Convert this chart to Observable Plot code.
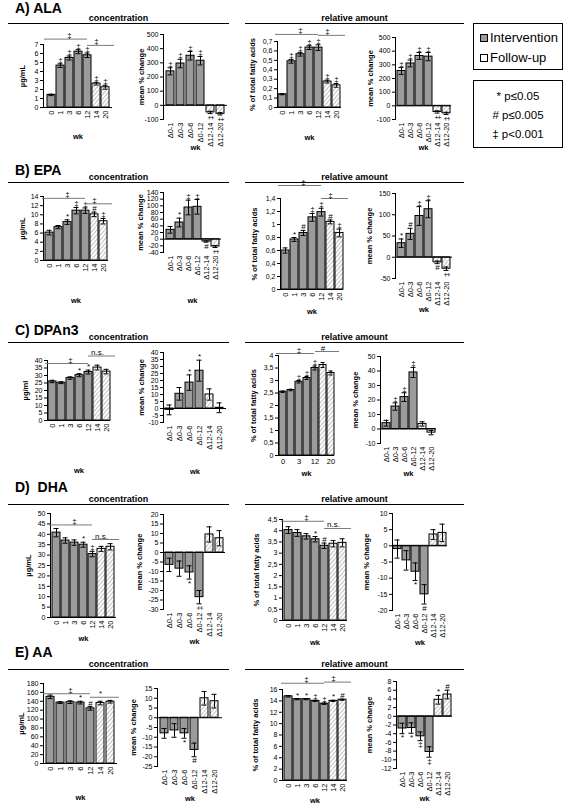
<!DOCTYPE html>
<html><head><meta charset="utf-8">
<script src="https://cdn.jsdelivr.net/npm/d3@7"></script>
<script src="https://cdn.jsdelivr.net/npm/@observablehq/plot@0.6"></script>
<style>
body{margin:0;background:#fff;font-family:"Liberation Sans",Arial,sans-serif;color:#000;}
#root{position:relative;width:565px;height:805px;overflow:hidden;background:#fff;}
.title{position:absolute;left:15px;font-weight:bold;font-size:14px;line-height:16px;white-space:pre;}
.hdr{position:absolute;font-weight:bold;font-size:9px;line-height:10px;text-align:center;border-bottom:1px solid #000;}
.box{position:absolute;border:1px solid #000;box-sizing:border-box;background:#fff;}
.li{position:absolute;left:6px;font-size:13px;line-height:14px;white-space:nowrap;}
.sw{display:inline-block;width:8px;height:8px;border:1px solid #000;margin-right:2px;vertical-align:0px;box-sizing:border-box;}
.pl{position:absolute;left:0;width:100%;text-align:center;font-size:11.5px;line-height:13px;white-space:nowrap;}
svg g[aria-label="x-axis tick label"] text, svg g[aria-label="x-axis"] g.tick text{font-size:7.5px;}
</style></head>
<body>
<svg width="0" height="0" style="position:absolute">
  <defs>
    <pattern id="hatch" patternUnits="userSpaceOnUse" width="3" height="3" patternTransform="rotate(40)">
      <rect width="3" height="3" fill="#fff"/>
      <line x1="0" y1="0" x2="0" y2="3" stroke="#8c8c8c" stroke-width="1.1"/>
    </pattern>
  </defs>
</svg>
<div id="root"></div>
<script>
// ---------- categories & tick labels ----------
const wkCats = ["0","1","3","6","12","14","20"];
const deltaCats = ["Δ0-1","Δ0-3","Δ0-6","Δ0-12","Δ12-14","Δ12-20"];
const followCats = ["14","20","Δ12-14","Δ12-20"];
const rowTitles = ["A) ALA","B) EPA","C) DPAn3","D)  DHA","E) AA"];
const headerTexts = ["concentration","relative amount"];
const legendItems = ["Intervention","Follow-up"];
const pLegend = ["* p≤0.05","# p≤0.005","‡ p<0.001"];

// ---------- A) ALA ----------
const alaConcMean = [1.4, 4.65, 5.5, 6.2, 5.8, 2.65, 2.25];
const alaConcErr  = [0.08, 0.2, 0.22, 0.22, 0.25, 0.15, 0.22];
const alaConcSig  = ["", "‡", "‡", "‡", "‡", "‡", "‡"];
const alaConcTicks = [0,1,2,3,4,5,6,7];
const alaConcBr = [{a:"0", b:"12", y:7.6, label:"‡", at:"3"}, {a:"12", b:"20", y:6.9, label:"‡", at:"14"}];
const alaDConcMean = [240, 295, 350, 315, -50, -60];
const alaDConcErr  = [25, 30, 30, 30, 8, 8];
const alaDConcSig  = ["‡","‡","‡","‡","‡","‡"];
const alaDConcTicks = [-100,0,100,200,300,400,500];
const alaRelMean = [0.14, 0.49, 0.565, 0.635, 0.635, 0.275, 0.235];
const alaRelErr  = [0.005, 0.02, 0.02, 0.02, 0.03, 0.015, 0.02];
const alaRelSig  = ["", "‡", "‡", "‡", "‡", "‡", "‡"];
const alaRelTicks = [0,0.1,0.2,0.3,0.4,0.5,0.6,0.7];
const alaRelBr = [{a:"0", b:"12", y:0.775, label:"‡", at:"3"}, {a:"12", b:"20", y:0.765, label:"‡", at:"14"}];
const alaDRelMean = [255, 310, 365, 360, -45, -55];
const alaDRelErr  = [25, 25, 25, 30, 8, 8];
const alaDRelSig  = ["‡","‡","‡","‡","‡","‡"];
const alaDRelTicks = [-100,0,100,200,300,400,500];

// ---------- B) EPA ----------
const epaConcMean = [6.1, 7.3, 8.4, 10.9, 10.9, 10.1, 8.6];
const epaConcErr  = [0.5, 0.35, 0.5, 0.7, 0.6, 0.5, 0.6];
const epaConcSig  = ["", "", "*", "‡", "‡", "#", "‡"];
const epaConcTicks = [0,2,4,6,8,10,12,14];
const epaConcBr = [{a:"0", b:"12", y:13.6, label:"‡", at:"3"}, {a:"12", b:"20", y:12.4, label:"‡", at:"14"}];
const epaDConcMean = [28, 50, 95, 97, -7, -22];
const epaDConcErr  = [10, 13, 22, 22, 2, 3];
const epaDConcSig  = ["", "*", "‡", "‡", "#", "‡"];
const epaDConcTicks = [-40,-20,0,20,40,60,80,100,120,140];
const epaRelMean = [0.6, 0.77, 0.87, 1.11, 1.19, 1.04, 0.87];
const epaRelErr  = [0.04, 0.03, 0.04, 0.06, 0.06, 0.03, 0.06];
const epaRelSig  = ["", "*", "#", "‡", "‡", "#", "‡"];
const epaRelTicks = [0,0.2,0.4,0.6,0.8,1,1.2,1.4];
const epaRelBr = [{a:"0", b:"12", y:1.6, label:"‡", at:"3"}, {a:"12", b:"20", y:1.4, label:"‡", at:"14"}];
const epaDRelMean = [33, 55, 97, 113, -12, -27];
const epaDRelErr  = [10, 13, 22, 20, 3, 4];
const epaDRelSig  = ["*", "#", "‡", "‡", "#", "‡"];
const epaDRelTicks = [-50,0,50,100,150];

// ---------- C) DPAn3 ----------
const dpaConcMean = [26, 25.2, 28.3, 30.2, 32.3, 35.3, 32.6];
const dpaConcErr  = [0.8, 0.6, 0.8, 1.0, 1.3, 1.6, 1.5];
const dpaConcSig  = ["", "", "", "*", "*", "", ""];
const dpaConcTicks = [0,5,10,15,20,25,30,35,40];
const dpaConcBr = [{a:"0", b:"12", y:38, label:"‡", at:"3"}, {a:"12", b:"20", y:43, label:"n.s.", at:"14"}];
const dpaDConcMean = [-1, 10.5, 18.5, 27, 10, 0.5];
const dpaDConcErr  = [3.5, 4.5, 5.5, 7.5, 4, 3.5];
const dpaDConcSig  = ["", "", "*", "*", "", ""];
const dpaDConcTicks = [-10,-5,0,5,10,15,20,25,30,35,40];
const dpaRelMean = [2.55, 2.62, 2.95, 3.1, 3.5, 3.62, 3.3];
const dpaRelErr  = [0.03, 0.03, 0.05, 0.06, 0.08, 0.1, 0.08];
const dpaRelSig  = ["", "", "‡", "‡", "‡", "", ""];
const dpaRelTicks = [0,0.5,1,1.5,2,2.5,3,3.5,4];
const dpaRelXTicks = ["0","3","12","20"];
const dpaRelBr = [{a:"0", b:"12", y:4.08, label:"‡", at:"3"}, {a:"12", b:"20", y:4.16, label:"#", at:"14"}];
const dpaDRelMean = [4, 15.5, 22, 39, 3.5, -2.5];
const dpaDRelErr  = [2, 2.5, 3, 3.5, 1.5, 1.5];
const dpaDRelSig  = ["", "‡", "‡", "‡", "", ""];
const dpaDRelTicks = [-10,0,10,20,30,40,50];

// ---------- D) DHA ----------
const dhaConcMean = [40.8, 37, 36, 35, 30.5, 33, 34];
const dhaConcErr  = [2, 1.3, 1.3, 1.2, 1.3, 1.2, 1.5];
const dhaConcSig  = ["", "", "", "*", "‡", "", ""];
const dhaConcTicks = [0,5,10,15,20,25,30,35,40,45,50];
const dhaConcBr = [{a:"0", b:"12", y:44.5, label:"‡", at:"3"}, {a:"12", b:"20", y:37.5, label:"n.s.", at:"14"}];
const dhaDConcMean = [-6.5, -8.5, -10.5, -23.5, 9.5, 7.5];
const dhaDConcErr  = [3.5, 4, 3.5, 3.5, 4, 4];
const dhaDConcSig  = ["", "", "*", "‡", "", ""];
const dhaDConcTicks = [-30,-25,-20,-15,-10,-5,0,5,10,15,20];
const dhaRelMean = [4.03, 3.9, 3.75, 3.62, 3.33, 3.42, 3.46];
const dhaRelErr  = [0.15, 0.15, 0.12, 0.12, 0.12, 0.14, 0.18];
const dhaRelSig  = ["", "", "", "*", "#", "", ""];
const dhaRelTicks = [0,0.5,1,1.5,2,2.5,3,3.5,4,4.5];
const dhaRelBr = [{a:"0", b:"12", y:4.42, label:"‡", at:"3"}, {a:"12", b:"20", y:4.1, label:"n.s.", at:"14"}];
const dhaDRelMean = [-1, -4.5, -8, -15, 3.5, 4];
const dhaDRelErr  = [2.8, 3, 2.7, 3, 1.5, 2.7];
const dhaDRelSig  = ["", "", "*", "#", "", ""];
const dhaDRelTicks = [-20,-15,-10,-5,0,5,10];

// ---------- E) AA ----------
const aaConcMean = [150, 137, 138, 137, 124, 136, 139];
const aaConcErr  = [4, 2, 3, 3, 4, 4, 3];
const aaConcSig  = ["", "", "", "*", "#", "", ""];
const aaConcTicks = [0,20,40,60,80,100,120,140,160,180];
const aaConcBr = [{a:"0", b:"12", y:157, label:"‡", at:"3"}, {a:"12", b:"20", y:149, label:"*", at:"14"}];
const aaDConcMean = [-8, -6.5, -8, -16.5, 10, 8.5];
const aaDConcErr  = [2.5, 3.5, 2.5, 3.5, 3.5, 3.5];
const aaDConcSig  = ["", "", "*", "#", "", ""];
const aaDConcTicks = [-25,-20,-15,-10,-5,0,5,10,15];
const aaRelMean = [14.8, 14.3, 14.3, 14.0, 13.5, 14.0, 14.2];
const aaRelErr  = [0.12, 0.1, 0.1, 0.1, 0.12, 0.1, 0.1];
const aaRelSig  = ["", "*", "*", "‡", "‡", "*", "#"];
const aaRelTicks = [0,2,4,6,8,10,12,14,16];
const aaRelBr = [{a:"0", b:"12", y:17.1, label:"‡", at:"3"}, {a:"12", b:"20", y:17.3, label:"‡", at:"14"}];
const aaDRelMean = [-2.8, -2.7, -4.6, -8.2, 3.8, 5.0];
const aaDRelErr  = [1.2, 1.2, 1.0, 1.2, 1.0, 1.0];
const aaDRelSig  = ["*", "*", "‡", "‡", "*", "#"];
const aaDRelTicks = [-12,-10,-8,-6,-4,-2,0,2,4,6,8];

const yLabConc = "µg/mL", yLabConc2 = "µg/ml", yLabRel = "% of total fatty acids", yLabD = "mean % change";

// ---------- panel definitions (data refs) ----------
const panels = [
  {cats:wkCats, mean:alaConcMean, err:alaConcErr, sig:alaConcSig, ticks:alaConcTicks, br:alaConcBr, ylab:yLabConc},
  {cats:deltaCats, mean:alaDConcMean, err:alaDConcErr, sig:alaDConcSig, ticks:alaDConcTicks, ylab:yLabD},
  {cats:wkCats, mean:alaRelMean, err:alaRelErr, sig:alaRelSig, ticks:alaRelTicks, br:alaRelBr, ylab:yLabRel},
  {cats:deltaCats, mean:alaDRelMean, err:alaDRelErr, sig:alaDRelSig, ticks:alaDRelTicks, ylab:yLabD},
  {cats:wkCats, mean:epaConcMean, err:epaConcErr, sig:epaConcSig, ticks:epaConcTicks, br:epaConcBr, ylab:yLabConc},
  {cats:deltaCats, mean:epaDConcMean, err:epaDConcErr, sig:epaDConcSig, ticks:epaDConcTicks, ylab:yLabD},
  {cats:wkCats, mean:epaRelMean, err:epaRelErr, sig:epaRelSig, ticks:epaRelTicks, br:epaRelBr, ylab:yLabRel},
  {cats:deltaCats, mean:epaDRelMean, err:epaDRelErr, sig:epaDRelSig, ticks:epaDRelTicks, ylab:yLabD},
  {cats:wkCats, mean:dpaConcMean, err:dpaConcErr, sig:dpaConcSig, ticks:dpaConcTicks, br:dpaConcBr, ylab:yLabConc2},
  {cats:deltaCats, mean:dpaDConcMean, err:dpaDConcErr, sig:dpaDConcSig, ticks:dpaDConcTicks, ylab:yLabD},
  {cats:wkCats, mean:dpaRelMean, err:dpaRelErr, sig:dpaRelSig, ticks:dpaRelTicks, br:dpaRelBr, ylab:yLabRel, xTicks:dpaRelXTicks},
  {cats:deltaCats, mean:dpaDRelMean, err:dpaDRelErr, sig:dpaDRelSig, ticks:dpaDRelTicks, ylab:yLabD},
  {cats:wkCats, mean:dhaConcMean, err:dhaConcErr, sig:dhaConcSig, ticks:dhaConcTicks, br:dhaConcBr, ylab:yLabConc},
  {cats:deltaCats, mean:dhaDConcMean, err:dhaDConcErr, sig:dhaDConcSig, ticks:dhaDConcTicks, ylab:yLabD},
  {cats:wkCats, mean:dhaRelMean, err:dhaRelErr, sig:dhaRelSig, ticks:dhaRelTicks, br:dhaRelBr, ylab:yLabRel},
  {cats:deltaCats, mean:dhaDRelMean, err:dhaDRelErr, sig:dhaDRelSig, ticks:dhaDRelTicks, ylab:yLabD},
  {cats:wkCats, mean:aaConcMean, err:aaConcErr, sig:aaConcSig, ticks:aaConcTicks, br:aaConcBr, ylab:yLabConc},
  {cats:deltaCats, mean:aaDConcMean, err:aaDConcErr, sig:aaDConcSig, ticks:aaDConcTicks, ylab:yLabD},
  {cats:wkCats, mean:aaRelMean, err:aaRelErr, sig:aaRelSig, ticks:aaRelTicks, br:aaRelBr, ylab:yLabRel},
  {cats:deltaCats, mean:aaDRelMean, err:aaDRelErr, sig:aaDRelSig, ticks:aaDRelTicks, ylab:yLabD, noRot:true}
];

// ---------- layout (pixel frame of each panel: left, right, top, bottom, wk label y, y-label offset) ----------
const layout = [
  {L:43,R:112,T:44,B:107,wk:136,yl:-21}, {L:163,R:227,T:34,B:119,wk:147,yl:-22},
  {L:277,R:341,T:41,B:107,wk:137,yl:-25}, {L:395,R:451,T:37,B:119,wk:147,yl:-25},
  {L:43,R:108,T:196,B:260,wk:300,yl:-21}, {L:163,R:221,T:192,B:252,wk:300,yl:-23},
  {L:280,R:343,T:198,B:289,wk:311,yl:-26}, {L:395,R:452,T:193,B:278,wk:309,yl:-26},
  {L:47,R:110,T:360,B:420,wk:470,yl:-22}, {L:163,R:226,T:352,B:422,wk:471,yl:-22},
  {L:278,R:334,T:355,B:455,wk:473,yl:-25}, {L:380,R:436,T:356,B:443,wk:473,yl:-25},
  {L:50,R:116,T:513,B:617,wk:638,yl:-22}, {L:163,R:225,T:514,B:609,wk:641,yl:-24},
  {L:282,R:347,T:519,B:620,wk:642,yl:-26}, {L:392,R:447,T:513,B:610,wk:642,yl:-26},
  {L:43,R:117,T:683,B:763,wk:797,yl:-22}, {L:157,R:222,T:688,B:766,wk:798,yl:-24},
  {L:282,R:347,T:689,B:780,wk:800,yl:-27}, {L:396,R:452,T:681,B:768,wk:798,yl:-27}
];
const titleTops = [0, 162, 322, 479, 644];
const headerLineY = [24, 183, 343, 505, 670];

const root = document.getElementById("root");
const fmt = d => String(d).replace(".", ",");

function drawPanel(p, g) {
  const data = p.cats.map((c, i) => ({c, m: p.mean[i], e: p.err[i], s: p.sig[i], f: followCats.includes(c)}));
  const mL = 45, mR = 25, mT = 45, mB = 50;
  const width = g.R - g.L + mL + mR, height = g.B - g.T + mT + mB;
  const lo = p.ticks[0], hi = p.ticks[p.ticks.length - 1];
  const pos = data.filter(d => d.s && d.m >= 0);
  const negRot = data.filter(d => d.s && d.m < 0 && d.s === "‡" && !p.noRot);
  const neg = data.filter(d => d.s && d.m < 0 && !(d.s === "‡" && !p.noRot));
  const yLabel = [{t: p.ylab, v: (lo + hi) / 2}];
  const marks = [
    Plot.barY(data.filter(d => !d.f), {x: "c", y: "m", fill: "#9b9b9b", stroke: "#000", strokeWidth: 1}),
    Plot.barY(data.filter(d => d.f), {x: "c", y: "m", fill: "url(#hatch)", stroke: "#000", strokeWidth: 1}),
    Plot.ruleY([0], {stroke: "#000", strokeWidth: 1}),
    Plot.ruleX(data, {x: "c", y1: d => d.m - d.e, y2: d => d.m + d.e, stroke: "#000", strokeWidth: 1}),
    Plot.tickY(data, {x: "c", y: d => d.m - d.e, stroke: "#000", insetLeft: 1.5, insetRight: 1.5}),
    Plot.tickY(data, {x: "c", y: d => d.m + d.e, stroke: "#000", insetLeft: 1.5, insetRight: 1.5}),
    Plot.text(pos, {x: "c", y: d => d.m + d.e, text: "s", lineAnchor: "bottom", dy: -1, fontSize: 8}),
    Plot.text(neg, {x: "c", y: d => d.m - d.e, text: "s", lineAnchor: "top", dy: 1, fontSize: 8}),
    Plot.text(negRot, {x: "c", y: d => d.m - d.e, text: "s", rotate: -90, textAnchor: "end", lineAnchor: "middle", dy: 2, fontSize: 8}),
    Plot.text(yLabel, {y: "v", text: "t", frameAnchor: "left", textAnchor: "middle", lineAnchor: "middle", rotate: -90, dx: g.yl, fontWeight: "bold", fontSize: 7.5}),
    Plot.text(["wk"], {frameAnchor: "bottom", textAnchor: "middle", lineAnchor: "middle", dy: g.wk - g.B, fontWeight: "bold", fontSize: 7.5})
  ];
  if (p.br) {
    marks.push(
      Plot.ruleY([p.br[0]], {x1: "a", x2: "b", y: "y", stroke: "#7a7a7a", strokeWidth: 1, insetLeft: -3, insetRight: 4}),
      Plot.ruleY([p.br[1]], {x1: "a", x2: "b", y: "y", stroke: "#7a7a7a", strokeWidth: 1, insetLeft: 4, insetRight: -5}),
      Plot.text(p.br, {x: "at", y: "y", text: "label", lineAnchor: "bottom", dy: -1, dx: 0, fontSize: 8})
    );
  }
  const svg = Plot.plot({
    width, height,
    marginLeft: mL, marginRight: mR, marginTop: mT, marginBottom: mB,
    x: {domain: p.cats, paddingInner: 0.16, paddingOuter: 0.06, label: null, tickSize: 0, tickPadding: 3,
        tickRotate: p.xTicks ? 0 : -90, ticks: p.xTicks || p.cats},
    y: {domain: [lo, hi], ticks: p.ticks, tickFormat: fmt, tickSize: 3, tickPadding: 2, line: true, label: null},
    style: {position: "absolute", left: (g.L - mL) + "px", top: (g.T - mT) + "px", background: "none",
            overflow: "visible", maxWidth: "none", fontFamily: "Liberation Sans, Arial, sans-serif", fontSize: "7px", color: "#000"},
    marks
  });
  root.appendChild(svg);
}

panels.forEach((p, i) => drawPanel(p, layout[i]));

// titles and section headers
rowTitles.forEach((t, i) => {
  const d = document.createElement("div");
  d.className = "title"; d.textContent = t; d.style.top = titleTops[i] + "px";
  root.appendChild(d);
  [[8, 229], [245, 464]].forEach(([x0, x1], j) => {
    const h = document.createElement("div");
    h.className = "hdr"; h.textContent = headerTexts[j];
    h.style.left = x0 + "px"; h.style.width = (x1 - x0) + "px";
    h.style.top = (headerLineY[i] - 11) + "px";
    root.appendChild(h);
  });
});

// legends
const box1 = document.createElement("div");
box1.className = "box";
Object.assign(box1.style, {left: "473px", top: "23px", width: "90px", height: "47px"});
legendItems.forEach((t, i) => {
  const li = document.createElement("div");
  li.className = "li"; li.style.top = (7 + i * 20) + "px";
  const sw = document.createElement("span");
  sw.className = "sw"; sw.style.background = i === 0 ? "#9b9b9b" : "#fff";
  li.appendChild(sw); li.appendChild(document.createTextNode(t));
  box1.appendChild(li);
});
root.appendChild(box1);
const box2 = document.createElement("div");
box2.className = "box";
Object.assign(box2.style, {left: "473px", top: "80px", width: "90px", height: "68px"});
pLegend.forEach((t, i) => {
  const li = document.createElement("div");
  li.className = "pl"; li.style.top = (9 + i * 19) + "px"; li.textContent = t;
  box2.appendChild(li);
});
root.appendChild(box2);
</script>
</body></html>
